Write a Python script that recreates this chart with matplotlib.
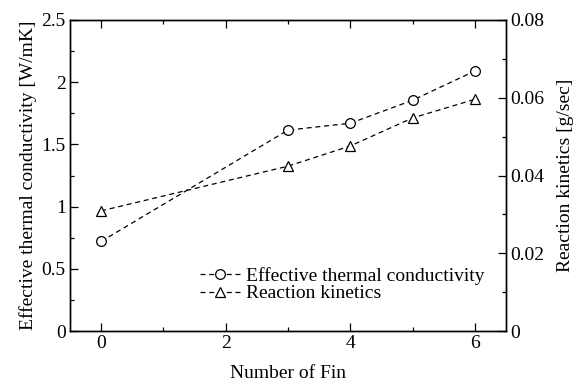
import matplotlib
matplotlib.use("Agg")
import matplotlib.pyplot as plt
from matplotlib.ticker import MultipleLocator

plt.rcParams['font.family'] = ['Liberation Serif', 'DejaVu Serif']

fins = [0, 3, 4, 5, 6]
conductivity = [0.72, 1.615, 1.67, 1.855, 2.09]
kinetics = [0.0309, 0.0424, 0.0476, 0.0548, 0.0596]

x_ticks = [0, 2, 4, 6]
left_ticks = [0, 0.5, 1, 1.5, 2, 2.5]
left_labels = ['0', '0.5', '1', '1.5', '2', '2.5']
right_ticks = [0, 0.02, 0.04, 0.06, 0.08]
right_labels = ['0', '0.02', '0.04', '0.06', '0.08']
fs = 14

fig = plt.figure(figsize=(5.78, 3.83), dpi=100)
ax = fig.add_axes([70/578, 1 - 331/383, (506-70)/578, (331-20)/383])
ax2 = ax.twinx()

l1, = ax.plot(fins, conductivity, linestyle=(0, (4, 3)), color='black', lw=0.9,
              marker='o', markersize=7, markerfacecolor='white', markeredgecolor='black',
              markeredgewidth=0.9, label='Effective thermal conductivity')
l2, = ax2.plot(fins, kinetics, linestyle=(0, (4, 3)), color='black', lw=0.9,
               marker='^', markersize=7, markerfacecolor='white', markeredgecolor='black',
               markeredgewidth=0.9, label='Reaction kinetics')

ax.set_xlim(-0.5, 6.5)
ax.set_xticks(x_ticks)
ax.xaxis.set_minor_locator(MultipleLocator(1))
ax.set_yticks(left_ticks)
ax.set_yticklabels(left_labels)
ax.yaxis.set_minor_locator(MultipleLocator(0.25))
ax2.set_yticks(right_ticks)
ax2.set_yticklabels(right_labels)
ax2.yaxis.set_minor_locator(MultipleLocator(0.01))
ax.set_ylim(0, 2.5)
ax2.set_ylim(0, 0.08)

for a in (ax, ax2):
    for s in a.spines.values():
        s.set_linewidth(1.0)
ax.tick_params(axis='both', which='both', direction='in', labelsize=fs, pad=3, top=True, right=False)
ax.tick_params(which='major', length=6, width=0.9)
ax.tick_params(which='minor', length=3, width=0.9)
ax2.tick_params(axis='y', which='both', direction='in', labelsize=fs, pad=3)
ax2.tick_params(which='major', length=6, width=0.9)
ax2.tick_params(which='minor', length=3, width=0.9)

ax.set_xlabel('Number of Fin', fontsize=fs, labelpad=9)
ax.set_ylabel('Effective thermal conductivity [W/mK]', fontsize=fs, labelpad=3)
ax2.set_ylabel('Reaction kinetics [g/sec]', fontsize=fs, labelpad=9)

ax.legend([l1, l2], [l1.get_label(), l2.get_label()], loc='upper left',
          bbox_to_anchor=((200-70)/436, 1 - (267-20)/311), frameon=False,
          fontsize=fs, handlelength=2.1, handletextpad=0.25, labelspacing=0.0,
          borderaxespad=0, borderpad=0)

fig.savefig('out.png', dpi=100)
